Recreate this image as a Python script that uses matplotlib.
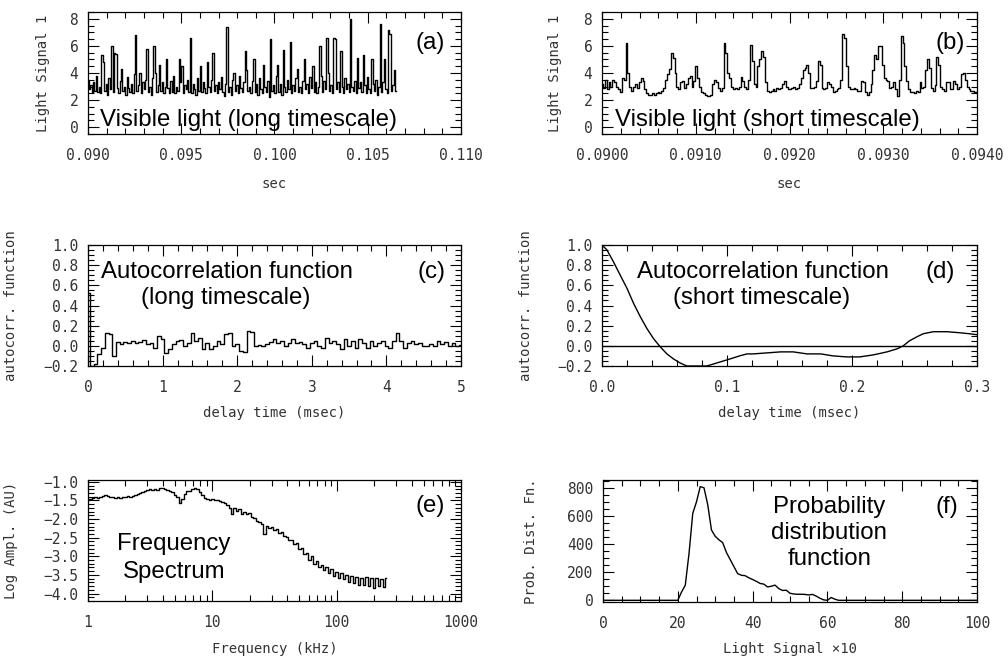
import numpy as np
import matplotlib
matplotlib.use("Agg")
import matplotlib.pyplot as plt
from matplotlib.ticker import MultipleLocator, FuncFormatter, LogLocator, NullFormatter

# ---------------- data ----------------
# (a) visible light, long timescale
sig_long_t0, sig_long_t1 = 0.090, 0.1065
sig_long = [
    3.4, 2.8, 3.1, 2.6, 3.3, 2.7, 3.8, 2.6, 3.0, 2.5,
    5.3, 4.8, 2.7, 3.2, 2.4, 3.6, 2.8, 6.0, 2.6, 5.5,
    5.4, 2.9, 2.5, 3.4, 4.3, 2.7, 3.0, 2.4, 3.7, 2.9,
    2.6, 3.2, 2.5, 3.9, 6.8, 2.7, 3.1, 4.0, 2.5, 3.3,
    2.8, 3.5, 5.8, 2.6, 3.0, 2.4, 3.6, 6.0, 4.0, 2.6,
    3.1, 4.6, 2.7, 3.3, 2.5, 3.0, 5.0, 2.9, 2.5, 3.4,
    2.6, 3.8, 2.5, 3.0, 2.7, 5.0, 3.3, 4.5, 2.5, 3.1,
    2.8, 3.5, 2.6, 6.6, 2.5, 3.2, 2.8, 2.4, 3.6, 2.7,
    4.5, 2.6, 3.3, 2.9, 2.5, 4.8, 3.0, 2.6, 3.5, 5.5,
    2.7, 3.1, 2.5, 3.3, 2.8, 3.7, 2.6, 2.3, 3.2, 7.4,
    2.6, 3.0, 2.4, 3.5, 4.0, 2.7, 3.1, 2.5, 3.8, 2.9,
    2.6, 3.3, 5.6, 4.2, 2.7, 3.0, 2.5, 3.4, 5.0, 2.6,
    3.2, 2.4, 3.6, 2.8, 2.5, 4.6, 3.0, 2.6, 3.4, 2.2,
    6.5, 2.7, 3.1, 2.5, 3.8, 4.6, 2.6, 3.2, 2.4, 5.7,
    3.0, 2.6, 3.5, 2.8, 6.3, 2.5, 3.1, 2.7, 3.6, 4.3,
    2.6, 3.0, 2.5, 3.4, 5.0, 2.8, 3.2, 2.5, 3.7, 2.9,
    4.5, 2.6, 3.3, 2.5, 3.0, 6.0, 3.8, 2.6, 3.4, 2.8,
    6.6, 4.0, 2.7, 3.1, 2.5, 6.6, 6.5, 2.8, 3.3, 2.6,
    5.6, 3.0, 2.5, 3.6, 2.8, 3.2, 2.6, 8.0, 3.0, 2.7,
    3.4, 2.5, 5.1, 2.9, 3.3, 2.6, 5.3, 3.1, 2.5, 3.7,
    2.8, 2.5, 5.0, 3.2, 2.7, 3.5, 2.4, 3.0, 7.6, 2.6,
    3.3, 5.0, 2.8, 2.5, 7.2, 6.9, 2.7, 3.1, 4.2, 2.7,
]

# (b) visible light, short timescale
sig_short_t0, sig_short_t1 = 0.0900, 0.0940
sig_short = [
    3.2, 2.9, 3.5, 2.8, 3.3, 3.0, 3.5, 3.3, 3.0, 2.8,
    2.6, 3.6, 3.5, 6.2, 4.0, 3.0, 2.7, 3.0, 3.2, 2.9,
    3.3, 3.6, 3.4, 2.8, 2.5, 2.4, 2.4, 2.5, 2.4, 2.5,
    2.6, 2.5, 2.7, 2.9, 3.5, 3.9, 4.3, 5.5, 5.1, 4.0,
    3.0, 2.8, 3.3, 3.4, 2.9, 3.2, 3.6, 3.8, 3.0, 3.4,
    4.5, 3.6, 3.0, 2.6, 2.5, 2.4, 2.3, 2.3, 2.4, 3.2,
    3.5, 3.3, 2.9, 2.7, 2.9, 6.2, 5.5, 4.0, 3.6, 3.0,
    2.8, 2.9, 2.8, 3.0, 3.7, 3.4, 3.0, 2.8, 3.5, 6.1,
    4.9, 3.2, 3.0, 4.5, 5.0, 5.6, 5.2, 3.3, 2.7, 2.6,
    2.7, 2.8, 2.7, 2.9, 2.8, 2.9, 3.2, 3.4, 3.0, 2.8,
    2.8, 2.9, 3.0, 2.8, 2.9, 3.2, 3.6, 4.2, 4.4, 4.6,
    4.0, 2.9, 2.9, 3.0, 3.4, 4.9, 4.6, 2.9, 2.8, 2.9,
    3.3, 3.2, 3.0, 2.6, 2.7, 2.8, 2.9, 3.5, 6.9, 6.6,
    4.5, 3.0, 2.8, 2.8, 2.9, 2.8, 2.7, 2.7, 3.4, 3.3,
    2.6, 2.4, 2.6, 3.2, 4.2, 5.3, 5.0, 6.0, 6.0, 4.6,
    3.6, 3.5, 3.4, 2.9, 3.0, 3.3, 2.8, 2.3, 3.5, 6.7,
    6.2, 4.5, 3.4, 2.8, 2.6, 2.6, 2.5, 2.7, 2.6, 3.3,
    2.9, 3.0, 4.2, 5.0, 4.4, 2.9, 2.7, 3.1, 5.2, 4.6,
    3.0, 2.8, 2.7, 3.3, 3.3, 2.8, 2.8, 3.4, 3.2, 2.8,
    3.0, 3.9, 4.0, 3.5, 3.0, 2.8, 2.7, 2.7, 2.6, 2.6,
]

# (c) autocorrelation, long timescale (delay step 0.05 ms)
ac_long_dt = 0.05
ac_long = [
    0.52, -0.20, -0.18, -0.08, -0.02, 0.13, 0.12, -0.10, 0.04, 0.02,
    0.04, 0.03, 0.05, 0.03, 0.04, 0.06, 0.02, 0.03, -0.02, 0.10,
    0.07, -0.07, -0.03, 0.02, 0.05, 0.06, 0.00, 0.03, 0.13, 0.05,
    0.08, -0.03, 0.03, -0.03, 0.00, 0.05, 0.02, 0.12, 0.13, 0.00,
    0.02, -0.05, -0.06, 0.15, 0.14, 0.00, 0.01, 0.00, 0.02, 0.04,
    0.07, 0.03, 0.05, 0.00, 0.03, 0.07, 0.03, 0.04, 0.02, -0.02,
    0.03, 0.05, 0.00, -0.02, 0.08, 0.03, 0.05, 0.02, -0.03, 0.07,
    0.00, 0.05, -0.02, 0.07, 0.03, -0.02, 0.05, 0.00, 0.03, 0.05,
    0.00, -0.02, 0.05, 0.13, 0.05, -0.02, 0.03, 0.05, 0.02, 0.03,
    0.00, 0.00, 0.02, 0.00, 0.05, 0.02, 0.04, 0.00, 0.03, 0.00,
    0.01,
]

# (d) autocorrelation, short timescale
ac_short_t = [0.0, 0.004, 0.0093, 0.0146, 0.020, 0.0253, 0.0306, 0.036, 0.0413,
              0.0466, 0.0519, 0.0572, 0.0625, 0.0679, 0.0732, 0.0785, 0.0838,
              0.0892, 0.0945, 0.0998, 0.105, 0.110, 0.116, 0.121, 0.132, 0.143,
              0.153, 0.164, 0.175, 0.185, 0.196, 0.206, 0.217, 0.228, 0.236,
              0.241, 0.246, 0.252, 0.257, 0.265, 0.276, 0.286, 0.294, 0.300]
ac_short = [1.00, 0.95, 0.83, 0.70, 0.57, 0.42, 0.29, 0.17, 0.07,
            -0.01, -0.08, -0.13, -0.17, -0.20, -0.20, -0.20, -0.20,
            -0.18, -0.16, -0.14, -0.12, -0.10, -0.08, -0.08, -0.07, -0.06,
            -0.06, -0.08, -0.08, -0.10, -0.11, -0.11, -0.09, -0.06, -0.03,
            0.00, 0.05, 0.09, 0.12, 0.14, 0.14, 0.13, 0.12, 0.11]

# (e) frequency spectrum (log10 f from 0 to 2.4 in 0.02 steps, kHz)
spec_logf0, spec_logf1 = 0.0, 2.4
spec = [
    -1.48, -1.46, -1.44, -1.42, -1.43, -1.40, -1.38, -1.36, -1.37, -1.40,
    -1.41, -1.43, -1.42, -1.44, -1.41, -1.42, -1.39, -1.40, -1.37, -1.36,
    -1.33, -1.31, -1.27, -1.24, -1.22, -1.19, -1.21, -1.18, -1.22, -1.17,
    -1.16, -1.20, -1.21, -1.25, -1.28, -1.34, -1.40, -1.57, -1.46, -1.33,
    -1.25, -1.24, -1.20, -1.17, -1.19, -1.27, -1.36, -1.43, -1.46, -1.48,
    -1.47, -1.49, -1.48, -1.52, -1.54, -1.58, -1.62, -1.70, -1.86, -1.70,
    -1.78, -1.72, -1.85, -1.80, -1.86, -1.84, -1.95, -1.98, -2.05, -2.08,
    -2.14, -2.40, -2.18, -2.25, -2.20, -2.30, -2.26, -2.38, -2.36, -2.46,
    -2.48, -2.57, -2.55, -2.68, -2.65, -2.80, -2.78, -2.95, -2.92, -3.10,
    -3.00, -3.20, -3.12, -3.30, -3.22, -3.38, -3.28, -3.46, -3.35, -3.52,
    -3.42, -3.58, -3.46, -3.62, -3.50, -3.70, -3.54, -3.72, -3.55, -3.76,
    -3.58, -3.78, -3.56, -3.80, -3.58, -3.85, -3.57, -3.80, -3.60, -3.82,
    -3.58,
]

# (f) probability distribution function
pdf_x = [0, 20, 21, 22, 23, 24, 25, 26, 27, 28, 29, 30, 31, 32, 33, 34, 35, 36,
         37, 38, 39, 40, 41, 42, 43, 44, 45, 46, 47, 48, 49, 50, 51, 52, 53, 54,
         55, 56, 57, 58, 59, 60, 61, 62, 63, 100]
pdf_y = [0, 0, 59, 107, 333, 618, 700, 808, 800, 680, 500, 455, 430, 410, 340,
         290, 240, 190, 178, 175, 160, 148, 135, 120, 115, 95, 100, 108, 83, 70,
         72, 50, 45, 43, 43, 42, 38, 42, 30, 15, 3, 0, 20, 8, 0, 0]

# ---------------- figure ----------------
W, H = 1008, 659
fig = plt.figure(figsize=(W / 100, H / 100), dpi=100)

def add_ax(l, r, t, b):
    return fig.add_axes([l / W, 1 - b / H, (r - l) / W, (b - t) / H])

TICKFONT = dict(family="DejaVu Sans Mono", size=10.5, color="#333333")
LABFONT = dict(family="DejaVu Sans Mono", size=10, color="#333333")
ANNFONT = dict(family="Liberation Sans", size=17.3, color="black")
LW = 1.0

def fmt(decimals):
    def f(v, pos):
        s = f"{v:.{decimals}f}"
        return s.replace("-", "\u2212")
    return FuncFormatter(f)

def style(ax):
    ax.tick_params(which="both", direction="in", top=True, right=True,
                   labelsize=TICKFONT["size"], labelcolor=TICKFONT["color"], width=0.8)
    ax.tick_params(which="major", length=8)
    ax.tick_params(which="minor", length=4)
    ax.tick_params(axis="x", which="major", pad=10)
    ax.tick_params(axis="y", which="major", pad=7)
    for lab in ax.get_xticklabels() + ax.get_yticklabels():
        lab.set_family(TICKFONT["family"])
    for s in ax.spines.values():
        s.set_linewidth(0.9)

axes = {}
axes["a"] = add_ax(88, 461, 12, 134)
axes["b"] = add_ax(602, 977, 12, 134)
axes["c"] = add_ax(88, 461, 245, 366)
axes["d"] = add_ax(602, 977, 245, 366)
axes["e"] = add_ax(88, 461, 480, 601)
axes["f"] = add_ax(603, 977, 480, 602)

# (a)
ax = axes["a"]
t = np.linspace(sig_long_t0, sig_long_t1, len(sig_long))
ax.plot(t, sig_long, color="black", lw=LW, drawstyle="steps-mid")
ax.set_xlim(0.090, 0.110)
ax.set_ylim(-0.5, 8.5)
ax.xaxis.set_major_locator(MultipleLocator(0.005))
ax.xaxis.set_minor_locator(MultipleLocator(0.001))
ax.yaxis.set_major_locator(MultipleLocator(2))
ax.yaxis.set_minor_locator(MultipleLocator(0.5))
ax.xaxis.set_major_formatter(fmt(3))
ax.yaxis.set_major_formatter(fmt(0))
ax.set_xlabel("sec", **LABFONT)
ax.set_ylabel("Light Signal 1", **LABFONT)
ax.xaxis.set_label_coords(0.5, -0.355)
ax.yaxis.set_label_coords(-0.102, 0.5)
ax.text(0.032, 0.115, "Visible light (long timescale)", transform=ax.transAxes,
        ha="left", va="center", **ANNFONT)
ax.text(0.917, 0.746, "(a)", transform=ax.transAxes, ha="center", va="center", **ANNFONT)
style(ax)

# (b)
ax = axes["b"]
t = np.linspace(sig_short_t0, sig_short_t1, len(sig_short))
ax.plot(t, sig_short, color="black", lw=LW, drawstyle="steps-mid")
ax.set_xlim(0.0900, 0.0940)
ax.set_ylim(-0.5, 8.5)
ax.xaxis.set_major_locator(MultipleLocator(0.001))
ax.xaxis.set_minor_locator(MultipleLocator(0.0002))
ax.yaxis.set_major_locator(MultipleLocator(2))
ax.yaxis.set_minor_locator(MultipleLocator(0.5))
ax.xaxis.set_major_formatter(fmt(4))
ax.yaxis.set_major_formatter(fmt(0))
ax.set_xlabel("sec", **LABFONT)
ax.set_ylabel("Light Signal 1", **LABFONT)
ax.xaxis.set_label_coords(0.5, -0.355)
ax.yaxis.set_label_coords(-0.107, 0.5)
ax.text(0.035, 0.115, "Visible light (short timescale)", transform=ax.transAxes,
        ha="left", va="center", **ANNFONT)
ax.text(0.928, 0.746, "(b)", transform=ax.transAxes, ha="center", va="center", **ANNFONT)
style(ax)

# (c)
ax = axes["c"]
tau = np.arange(len(ac_long)) * ac_long_dt
ax.plot(tau, ac_long, color="black", lw=LW, drawstyle="steps-mid")
ax.set_xlim(0, 5)
ax.set_ylim(-0.2, 1.0)
ax.xaxis.set_major_locator(MultipleLocator(1))
ax.xaxis.set_minor_locator(MultipleLocator(0.2))
ax.yaxis.set_major_locator(MultipleLocator(0.2))
ax.yaxis.set_minor_locator(MultipleLocator(0.05))
ax.xaxis.set_major_formatter(fmt(0))
ax.yaxis.set_major_formatter(fmt(1))
ax.set_xlabel("delay time (msec)", **LABFONT)
ax.set_ylabel("autocorr. function", **LABFONT)
ax.xaxis.set_label_coords(0.5, -0.33)
ax.yaxis.set_label_coords(-0.188, 0.5)
ax.text(0.036, 0.774, "Autocorrelation function", transform=ax.transAxes,
        ha="left", va="center", **ANNFONT)
ax.text(0.37, 0.56, "(long timescale)", transform=ax.transAxes,
        ha="center", va="center", **ANNFONT)
ax.text(0.921, 0.774, "(c)", transform=ax.transAxes, ha="center", va="center", **ANNFONT)
style(ax)

# (d)
ax = axes["d"]
ax.plot(ac_short_t, ac_short, color="black", lw=LW)
ax.axhline(0.0, color="black", lw=LW)
ax.set_xlim(0, 0.3)
ax.set_ylim(-0.2, 1.0)
ax.xaxis.set_major_locator(MultipleLocator(0.1))
ax.xaxis.set_minor_locator(MultipleLocator(0.02))
ax.yaxis.set_major_locator(MultipleLocator(0.2))
ax.yaxis.set_minor_locator(MultipleLocator(0.05))
ax.xaxis.set_major_formatter(fmt(1))
ax.yaxis.set_major_formatter(fmt(1))
ax.set_xlabel("delay time (msec)", **LABFONT)
ax.set_ylabel("autocorr. function", **LABFONT)
ax.xaxis.set_label_coords(0.5, -0.33)
ax.yaxis.set_label_coords(-0.184, 0.5)
ax.text(0.0925, 0.774, "Autocorrelation function", transform=ax.transAxes,
        ha="left", va="center", **ANNFONT)
ax.text(0.426, 0.56, "(short timescale)", transform=ax.transAxes,
        ha="center", va="center", **ANNFONT)
ax.text(0.903, 0.774, "(d)", transform=ax.transAxes, ha="center", va="center", **ANNFONT)
style(ax)

# (e)
ax = axes["e"]
freq = np.logspace(spec_logf0, spec_logf1, len(spec))
ax.plot(freq, spec, color="black", lw=LW, drawstyle="steps-mid")
ax.set_xscale("log")
ax.set_xlim(1, 1000)
ax.set_ylim(-4.2, -0.95)
ax.xaxis.set_major_locator(LogLocator(base=10, numticks=10))
ax.xaxis.set_minor_locator(LogLocator(base=10, subs=np.arange(2, 10), numticks=20))
ax.xaxis.set_minor_formatter(NullFormatter())
ax.xaxis.set_major_formatter(FuncFormatter(lambda v, p: f"{v:.0f}"))
ax.yaxis.set_major_locator(MultipleLocator(0.5))
ax.yaxis.set_minor_locator(MultipleLocator(0.1))
ax.yaxis.set_major_formatter(fmt(1))
ax.set_xlabel("Frequency (kHz)", **LABFONT)
ax.set_ylabel("Log Ampl. (AU)", **LABFONT)
ax.xaxis.set_label_coords(0.5, -0.34)
ax.yaxis.set_label_coords(-0.188, 0.5)
ax.text(0.231, 0.471, "Frequency", transform=ax.transAxes, ha="center", va="center", **ANNFONT)
ax.text(0.231, 0.242, "Spectrum", transform=ax.transAxes, ha="center", va="center", **ANNFONT)
ax.text(0.917, 0.785, "(e)", transform=ax.transAxes, ha="center", va="center", **ANNFONT)
style(ax)

# (f)
ax = axes["f"]
ax.plot(pdf_x, pdf_y, color="black", lw=LW)
ax.set_xlim(0, 100)
ax.set_ylim(-12, 855)
ax.xaxis.set_major_locator(MultipleLocator(20))
ax.xaxis.set_minor_locator(MultipleLocator(5))
ax.yaxis.set_major_locator(MultipleLocator(200))
ax.yaxis.set_minor_locator(MultipleLocator(50))
ax.xaxis.set_major_formatter(fmt(0))
ax.yaxis.set_major_formatter(fmt(0))
ax.set_xlabel("Light Signal \u00d710", **LABFONT)
ax.set_ylabel("Prob. Dist. Fn.", **LABFONT)
ax.xaxis.set_label_coords(0.5, -0.33)
ax.yaxis.set_label_coords(-0.174, 0.5)
ax.text(0.605, 0.776, "Probability", transform=ax.transAxes, ha="center", va="center", **ANNFONT)
ax.text(0.605, 0.563, "distribution", transform=ax.transAxes, ha="center", va="center", **ANNFONT)
ax.text(0.605, 0.35, "function", transform=ax.transAxes, ha="center", va="center", **ANNFONT)
ax.text(0.919, 0.776, "(f)", transform=ax.transAxes, ha="center", va="center", **ANNFONT)
style(ax)

fig.savefig("out.png", dpi=100)
